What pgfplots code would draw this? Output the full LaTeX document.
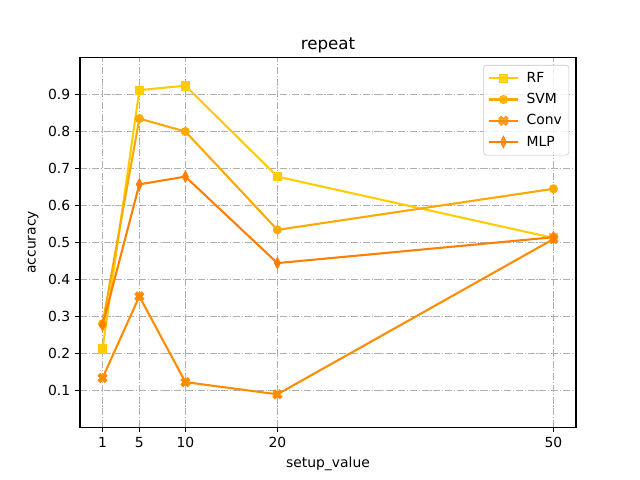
\documentclass[border=0pt]{standalone}
\usepackage{fontspec}
\setmainfont{DejaVu Sans}
\usepackage{pgfplots}
\pgfplotsset{compat=1.18}
\definecolor{cRF}{HTML}{FFCC00}
\definecolor{cSVM}{HTML}{FFA800}
\definecolor{cConv}{HTML}{FF8C00}
\definecolor{cMLP}{HTML}{FF7F00}
\definecolor{gridc}{HTML}{B0B0B0}
\pgfdeclareplotmark{Xf}{%
  \begin{pgfscope}
  \pgftransformrotate{45}%
  \pgfmathsetlengthmacro{\ra}{1.25*\pgfplotmarksize}%
  \pgfmathsetlengthmacro{\wa}{0.42*\pgfplotmarksize}%
  \pgfpathmoveto{\pgfpoint{\wa}{\ra}}%
  \pgfpathlineto{\pgfpoint{-\wa}{\ra}}%
  \pgfpathlineto{\pgfpoint{-\wa}{\wa}}%
  \pgfpathlineto{\pgfpoint{-\ra}{\wa}}%
  \pgfpathlineto{\pgfpoint{-\ra}{-\wa}}%
  \pgfpathlineto{\pgfpoint{-\wa}{-\wa}}%
  \pgfpathlineto{\pgfpoint{-\wa}{-\ra}}%
  \pgfpathlineto{\pgfpoint{\wa}{-\ra}}%
  \pgfpathlineto{\pgfpoint{\wa}{-\wa}}%
  \pgfpathlineto{\pgfpoint{\ra}{-\wa}}%
  \pgfpathlineto{\pgfpoint{\ra}{\wa}}%
  \pgfpathlineto{\pgfpoint{\wa}{\wa}}%
  \pgfpathclose
  \pgfusepathqfillstroke
  \end{pgfscope}}
\begin{document}
\begin{tikzpicture}
\begin{axis}[
  name=ax,
  scale only axis,
  width=357.12pt, height=266.11pt,
  xmin=-1.45, xmax=52.45, ymin=0, ymax=1,
  xtick={1,5,10,20,50},
  ytick={0.1,0.2,0.3,0.4,0.5,0.6,0.7,0.8,0.9},
  yticklabel style={/pgf/number format/.cd,fixed,fixed zerofill,precision=1},
  /pgf/number format/assume math mode=true,
  tick align=outside, tick pos=left,
  major tick length=3.5pt,
  tick style={black, line width=0.8pt},
  axis line style={black, line width=0.8pt},
  grid=major,
  major grid style={gridc, line width=0.8pt, dash pattern=on 5.12pt off 1.28pt on 0.8pt off 1.28pt},
  ticklabel style={font=\fontsize{10}{12}\selectfont},
  xlabel={setup\_value}, ylabel={accuracy},
  label style={font=\fontsize{10}{12}\selectfont},
  title={repeat},
  title style={font=\fontsize{12}{14}\selectfont, yshift=-6pt},
  legend cell align=left,
  legend style={at={(0.986,0.98)}, anchor=north east, font=\fontsize{10}{12}\selectfont, draw=gridc!70, rounded corners=2pt, fill=white, fill opacity=0.8, text opacity=1, inner xsep=3pt, inner ysep=3pt, row sep=2.4pt},
  legend image code/.code={\draw[mark repeat=2,mark phase=2] plot coordinates {(0cm,0cm) (0.37cm,0cm) (0.74cm,0cm)}; \path (0.86cm,0cm);},
  every axis plot/.append style={line width=1.5pt},
]
\addplot[color=cRF, mark=square*, mark size=3pt, mark options={solid, line width=0.5pt}] coordinates {(1,0.212) (5,0.912) (10,0.924) (20,0.678) (50,0.512)};
\addlegendentry{RF}
\addplot[color=cSVM, mark=*, mark size=3pt, mark options={solid, line width=0.5pt}] coordinates {(1,0.280) (5,0.835) (10,0.800) (20,0.534) (50,0.645)};
\addlegendentry{SVM}
\addplot[color=cConv, mark=Xf, mark size=2.8pt, mark options={solid, line width=0.5pt}] coordinates {(1,0.133) (5,0.354) (10,0.122) (20,0.089) (50,0.509)};
\addlegendentry{Conv}
\addplot[color=cMLP, mark=diamond*, mark size=4.2pt, mark options={solid, line width=0.5pt, xscale=0.7}] coordinates {(1,0.276) (5,0.657) (10,0.678) (20,0.444) (50,0.514)};
\addlegendentry{MLP}
\end{axis}
\path (ax.south west) ++(-57.6pt,-38.016pt) rectangle ++(460.8pt,345.6pt);
\end{tikzpicture}
\end{document}
